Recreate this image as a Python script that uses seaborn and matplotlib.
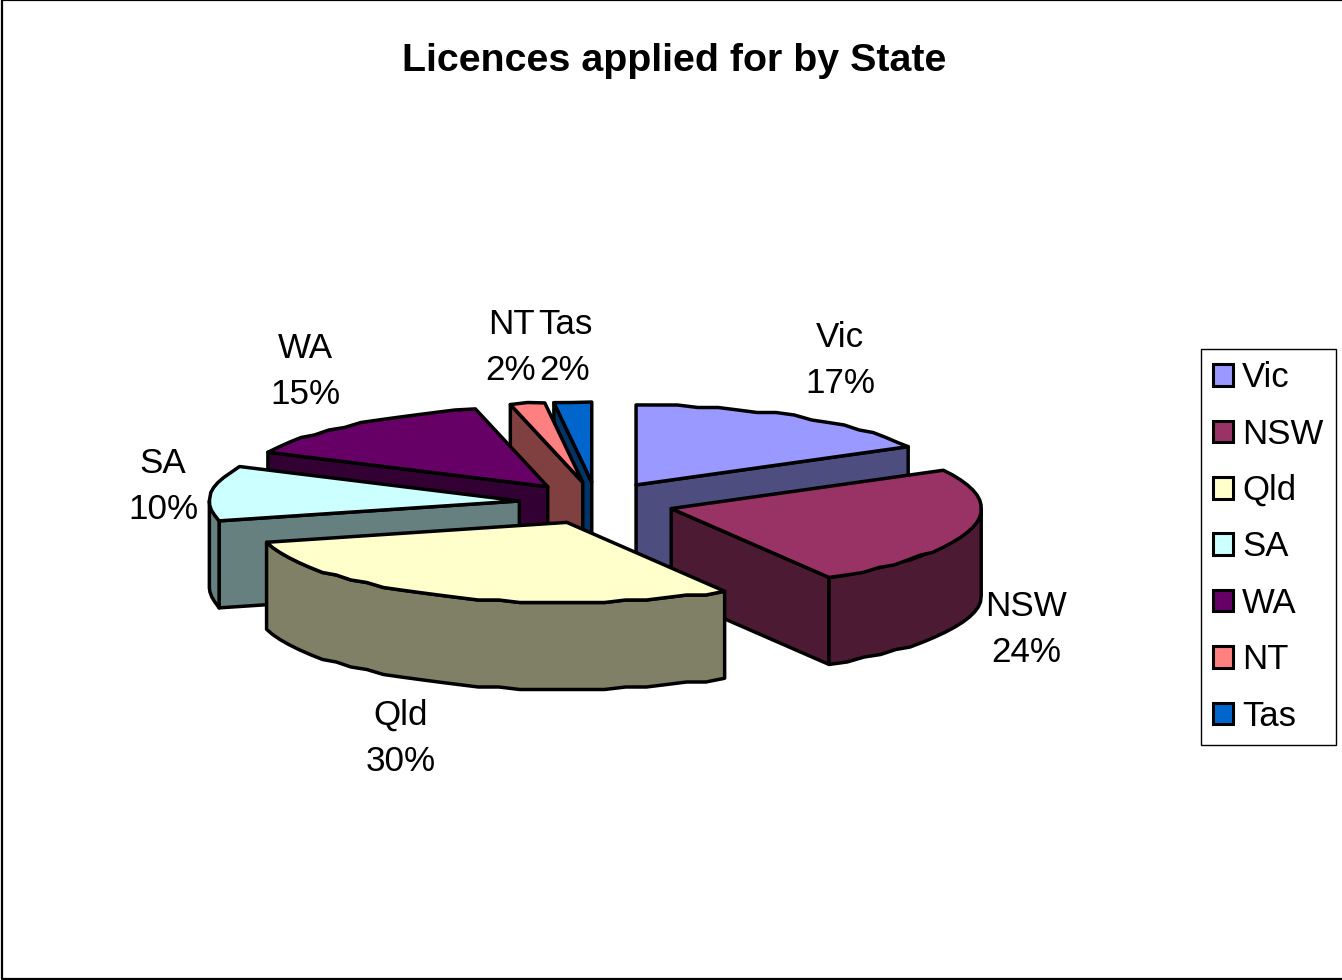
import numpy as np
import matplotlib
matplotlib.use("Agg")
import matplotlib.pyplot as plt
from matplotlib.patches import Polygon, Patch
import seaborn as sns

states = ["Vic", "NSW", "Qld", "SA", "WA", "NT", "Tas"]
# share of the circle each slice takes (perspective-affected)
slice_shares = [17.05, 24.45, 29.50, 11.08, 14.17, 1.80, 1.95]
# percentages printed on the chart
percent_labels = ["17%", "24%", "30%", "10%", "15%", "2%", "2%"]
face_colors = ["#9999FF", "#993366", "#FFFFCC", "#CCFFFF", "#660066", "#FF8080", "#0066CC"]

sns.set_theme(style="white")
plt.rcParams["font.family"] = ["Liberation Sans", "DejaVu Sans"]
palette = sns.color_palette(face_colors)
shades = [tuple(c * 0.5 for c in col) for col in palette]

fig = plt.figure(figsize=(13.42, 9.8), dpi=100, facecolor="white")
ax = fig.add_axes([0, 0, 1, 1])
ax.set_xlim(0, 1342)
ax.set_ylim(980, 0)
ax.axis("off")

CX, CY = 596.5, 503    # pie centre
RX, RY = 310, 80       # ellipse radii
EX, EY = 77.5, 21      # explosion distance
DEPTH = 87
LW = 2.5
STEP = 2.5             # coarse rim, like the low-resolution original


def rim(apex, a0, a1):
    n = max(2, int(np.ceil((a1 - a0) / 4.0)) + 1)
    t = np.radians(np.linspace(a0, a1, n))
    x = apex[0] + RX * np.sin(t)
    y = apex[1] - RY * np.cos(t)
    y[1:-1] = np.round(y[1:-1] / STEP) * STEP
    return np.column_stack([x, y])


def add(points, color, z):
    ax.add_patch(Polygon(points, closed=True, facecolor=color, edgecolor="black",
                         linewidth=LW, joinstyle="round", zorder=z))


edges = np.concatenate([[0], np.cumsum(slice_shares)]) / np.sum(slice_shares) * 360.0
down = np.array([0, DEPTH])
paint_order = [6, 5, 4, 3, 0, 1, 2]

for z, i in enumerate(paint_order):
    a0, a1 = edges[i], edges[i + 1]
    mid = np.radians((a0 + a1) / 2)
    apex = np.array([CX + EX * np.sin(mid), CY - EY * np.cos(mid)])
    outline = rim(apex, a0, a1)
    base = z * 10
    # radial walls that face the viewer
    if np.sin(np.radians(a0)) < -1e-6:
        p = outline[0]
        add([apex, p, p + down, apex + down], shades[i], base + 1)
    if np.sin(np.radians(a1)) > 1e-6:
        p = outline[-1]
        add([apex, p, p + down, apex + down], shades[i], base + 1)
    # outer wall, front half only
    lo, hi = max(a0, 90), min(a1, 270)
    if hi > lo:
        arc = rim(apex, lo, hi)
        add(np.vstack([arc, (arc + down)[::-1]]), shades[i], base + 2)
    # top face
    add(np.vstack([[apex], outline]), palette[i], base + 3)

# chart title
ax.text(674.5, 61, "Licences applied for by State", ha="center", va="center",
        fontsize=28.4, fontweight="bold", color="black", zorder=200)

# data labels
label_centres = [(840, 360.5), (1026, 629.5), (401, 738.5), (163, 486.5), (305, 371.5), (511, 347.5), (565, 347.5)]
for s, pct, (lx, ly) in zip(states, percent_labels, label_centres):
    ax.text(lx, ly, f"{s}\n{pct}", ha="center", va="center", fontsize=25.2,
            linespacing=1.49, color="black", zorder=200)

# legend
handles = [Patch(facecolor=c, edgecolor="black", linewidth=2.2) for c in palette]
leg = ax.legend(handles, states, loc="upper left", bbox_to_anchor=(1200.5, 349),
                bbox_transform=ax.transData, borderaxespad=0, fontsize=25,
                frameon=True, fancybox=False, edgecolor="black", facecolor="white",
                framealpha=1, handlelength=0.58, handleheight=0.58, handletextpad=0.27,
                labelspacing=0.675, borderpad=0.35, labelcolor="black")
leg.get_frame().set_linewidth(1.0)
leg.set_zorder(210)

# outer chart border: left, top and bottom sides
ax.plot([1342, 1.5, 1.5, 1342], [0.5, 0.5, 978.5, 978.5], color="black", lw=1.6,
        zorder=220, clip_on=False)

fig.savefig("out.png", dpi=100, facecolor="white")
